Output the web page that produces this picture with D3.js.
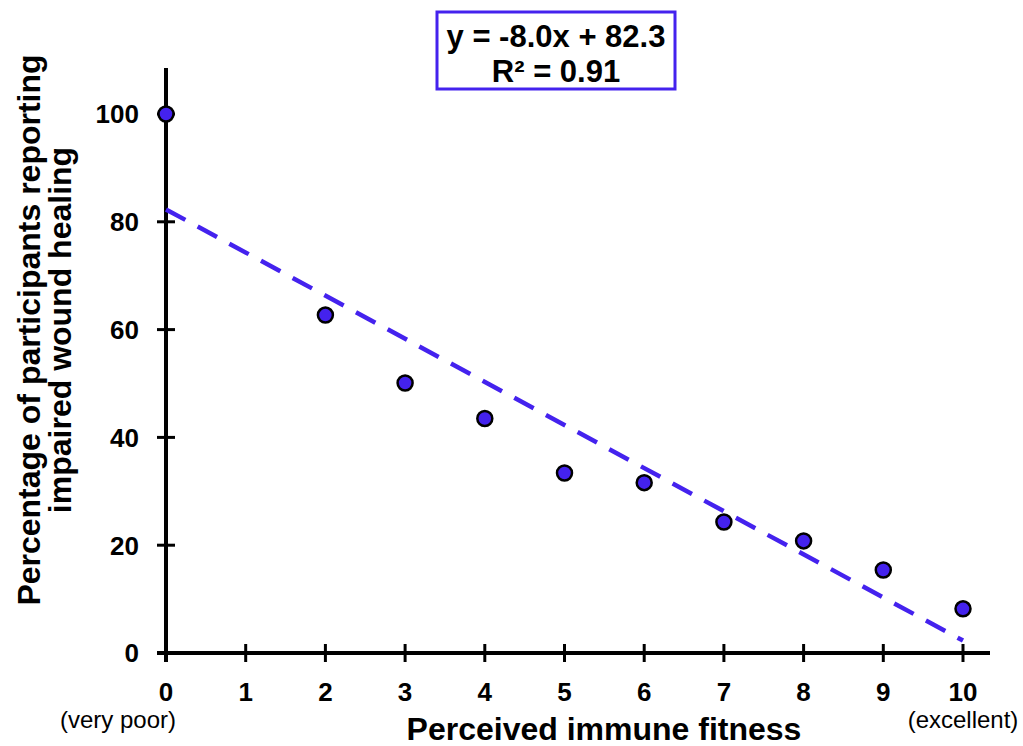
<!DOCTYPE html>
<html><head><meta charset="utf-8">
<script src="https://cdn.jsdelivr.net/npm/d3@7"></script>
<style>body{margin:0;background:#fff}svg{display:block}text{font-family:"Liberation Sans",Arial,sans-serif}</style>
</head><body><svg id="c" width="1023" height="746"></svg>
<script>
const xValues = [0, 2, 3, 4, 5, 6, 7, 8, 9, 10];
const yValues = [100, 62.7, 50.1, 43.5, 33.4, 31.6, 24.3, 20.8, 15.4, 8.2];
const xTicks = [0,1,2,3,4,5,6,7,8,9,10];
const yTicks = [0,20,40,60,80,100];
const slope = -8.0, intercept = 82.3, r2 = 0.91;
const xTitle = "Perceived immune fitness";
const yTitle = ["Percentage of participants reporting", "impaired wound healing"];
const blue = "#4422ee";

const svg = d3.select("#c");
const x = d3.scaleLinear().domain([0,10]).range([166,963]);
const y = d3.scaleLinear().domain([0,100]).range([653,114]);

// axes lines
svg.append("line").attr("x1",166).attr("x2",166).attr("y1",68).attr("y2",662).attr("stroke","#000").attr("stroke-width",4);
svg.append("line").attr("x1",157).attr("x2",990).attr("y1",653).attr("y2",653).attr("stroke","#000").attr("stroke-width",4);

// y ticks
const yg = svg.append("g");
yTicks.forEach(t=>{
  yg.append("line").attr("x1",157).attr("x2",175).attr("y1",y(t)).attr("y2",y(t)).attr("stroke","#000").attr("stroke-width",3);
  yg.append("text").attr("x",139).attr("y",y(t)).attr("dy","0.36em").attr("text-anchor","end")
    .attr("font-size",26).attr("font-weight","bold").text(t);
});
// x ticks
const xg = svg.append("g");
xTicks.forEach(t=>{
  xg.append("line").attr("x1",x(t)).attr("x2",x(t)).attr("y1",644).attr("y2",662).attr("stroke","#000").attr("stroke-width",3);
  xg.append("text").attr("x",x(t)).attr("y",701).attr("text-anchor","middle")
    .attr("font-size",26).attr("font-weight","bold").text(t);
});
svg.append("text").attr("x",176).attr("y",728).attr("text-anchor","end").attr("font-size",24).text("(very poor)");
svg.append("text").attr("x",x(10)).attr("y",728).attr("text-anchor","middle").attr("font-size",24).text("(excellent)");

// titles
svg.append("text").attr("x",604).attr("y",740).attr("text-anchor","middle").attr("font-size",32).attr("font-weight","bold").text(xTitle);
yTitle.forEach((s,i)=>{
  svg.append("text").attr("transform",`translate(${40+i*31},330) rotate(-90)`).attr("text-anchor","middle")
    .attr("font-size",32).attr("font-weight","bold").text(s);
});

// trend line
svg.append("line").attr("x1",x(0)).attr("y1",y(intercept)).attr("x2",x(10)).attr("y2",y(intercept+slope*10))
  .attr("stroke",blue).attr("stroke-width",4.5).attr("stroke-dasharray","22,14");

// points
svg.append("g").selectAll("circle").data(xValues.map((v,i)=>[v,yValues[i]])).join("circle")
  .attr("cx",d=>x(d[0])).attr("cy",d=>y(d[1])).attr("r",7.5)
  .attr("fill",blue).attr("stroke","#000").attr("stroke-width",2.5);

// equation box
svg.append("rect").attr("x",437).attr("y",12).attr("width",238).attr("height",77).attr("fill","#fff").attr("stroke",blue).attr("stroke-width",3);
svg.append("text").attr("x",556).attr("y",47).attr("text-anchor","middle").attr("font-size",31).attr("font-weight","bold")
  .text(`y = ${slope.toFixed(1)}x + ${intercept.toFixed(1)}`);
svg.append("text").attr("x",556).attr("y",82).attr("text-anchor","middle").attr("font-size",31).attr("font-weight","bold")
  .text(`R² = ${r2.toFixed(2)}`);
</script></body></html>
